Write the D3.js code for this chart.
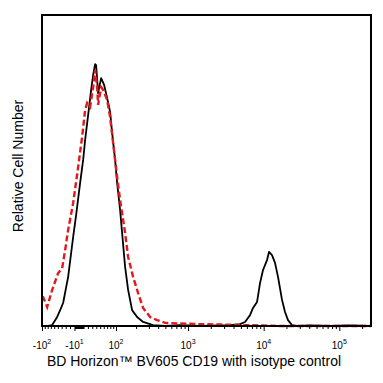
<!DOCTYPE html>
<html><head><meta charset="utf-8">
<script src="https://cdn.jsdelivr.net/npm/d3@7"></script>
<style>body{margin:0;background:#fff;}svg{display:block;font-family:"Liberation Sans",Arial,sans-serif;}</style>
</head><body><div id="chart"></div>
<script>
// ---- data (x = fluorescence intensity, y = relative cell number) ----
const blackX = [-100,-78.5,-66,-51.8,-43.9,-36.4,-24.4,-13,-6.3,2.5,9.2,13.6,20.4,27.4,32.2,37,39.5,44.6,52.6,61,69.9,79.4,86.1,96.7,104.3,116.3,124.9,138.6,153.5,175.3,206.3,249.8,341.8,495.2,784,1443,2652,3595,4873,5673,6605,7235,8171,8950,9806,11074,11770,12894,14127,15475,17480,19151,20978,23689,27583,40963,75291,138330,262143];
const blackY = [0,0,0.3,2.9,5.1,7.4,15.8,28.6,35.7,46.0,53.4,59.8,67.8,75.9,80.7,84.2,83.9,74.9,79.7,77.5,73.3,68.8,62.1,53.4,46.0,37.3,29.9,19.0,11.6,5.1,2.9,1.3,0.3,0,0.3,0,0.2,0.3,0.6,1.3,3.5,5.8,7.7,13.8,18.0,21.2,23.8,22.8,20.3,15.8,8.4,4.5,1.9,0.3,0,0.2,0,0.2,0];
const redX = [-100,-95.7,-81.8,-66,-49.2,-38.8,-31.5,-24.4,-13,-1.9,6.9,13.6,18.1,25,32.2,37,42.1,44.6,52.6,58.1,69.9,79.4,89.6,104.3,116.3,138.6,153.5,181.1,213,249.8,311.3,386.9,495.2,784,1443,2652,4873,8950,16447,262143];
const redY = [9.3,9.3,6.1,11.6,17.0,18.6,24.4,30.9,39.5,51.1,60.8,69.5,71.7,70.4,76.8,82.3,76.8,71.1,76.8,75.9,72.7,67.2,58.8,47.9,40.5,29.9,22.2,15.8,10.6,5.8,2.9,1.9,1.0,0.8,0.6,0.5,0.3,0.2,0,0];
const majorTicks = [-100,-10,100,1000,10000,100000];
const tickBase = ["-10","-10","10","10","10","10"];
const tickExp = ["2","1","2","3","4","5"];
const minorTicks = [-90,-80,-70,-60,-50,-40,-30,-20,-9,-8,-7,-6,-5,-4,-3,-2,0,2,3,4,5,6,7,8,9,10,20,30,40,50,60,70,80,90,200,300,400,500,600,700,800,900,2000,3000,4000,5000,6000,7000,8000,9000,20000,30000,40000,50000,60000,70000,80000,90000,200000];
const xDomain = [-100, 262143];
const yDomain = [0, 100];
const xTitle = "BD Horizon™ BV605 CD19 with isotype control";
const yTitle = "Relative Cell Number";

// ---- layout ----
const W = 383, H = 383;
const L = 42, R = 371, T = 15, B = 326;
const K = 72.5; // biexponential width constant
const tf = v => Math.asinh(v / K);
const xLin = d3.scaleLinear().domain(xDomain.map(tf)).range([L, R]);
const x = v => xLin(tf(v));
const y = d3.scaleLinear().domain(yDomain).range([B, T]);

const svg = d3.select("#chart").append("svg").attr("width", W).attr("height", H);

// curves
const line = d3.line().x(d => x(d[0])).y(d => y(d[1]));
svg.append("path").datum(blackX.map((v, i) => [v, blackY[i]]))
  .attr("d", line).attr("fill", "none").attr("stroke", "#000").attr("stroke-width", 1.8)
  .attr("stroke-linejoin", "round");
svg.append("path").datum(redX.map((v, i) => [v, redY[i]]))
  .attr("d", line).attr("fill", "none").attr("stroke", "#e3181d").attr("stroke-width", 2.4)
  .attr("stroke-dasharray", "6,3");

// box
svg.append("rect").attr("x", L).attr("y", T).attr("width", R - L).attr("height", B - T)
  .attr("fill", "none").attr("stroke", "#000").attr("stroke-width", 2);

// axes
const axMajor = d3.axisBottom(xLin).tickValues(majorTicks.map(tf)).tickSize(5).tickFormat("");
const axMinor = d3.axisBottom(xLin).tickValues(minorTicks.map(tf)).tickSize(3).tickFormat("");
const gMaj = svg.append("g").attr("transform", `translate(0,${B})`).call(axMajor);
const gMin = svg.append("g").attr("transform", `translate(0,${B})`).call(axMinor);
[gMaj, gMin].forEach(g => { g.select(".domain").remove(); g.selectAll("line").attr("stroke", "#000").attr("stroke-width", 1); });

// tick labels with superscripts
const lab = svg.append("g").selectAll("text").data(majorTicks).join("text")
  .attr("x", d => x(d)).attr("y", 349).attr("text-anchor", "middle")
  .attr("font-size", 10).attr("fill", "#000");
lab.append("tspan").text((d, i) => tickBase[i]);
lab.append("tspan").attr("dy", -5).attr("font-size", 7).text((d, i) => tickExp[i]);

// titles
svg.append("text").attr("x", 194).attr("y", 366).attr("text-anchor", "middle")
  .attr("font-size", 14).attr("fill", "#000").text(xTitle);
svg.append("text").attr("transform", "translate(23,166) rotate(-90)").attr("text-anchor", "middle")
  .attr("font-size", 14).attr("fill", "#000").text(yTitle);
</script></body></html>
